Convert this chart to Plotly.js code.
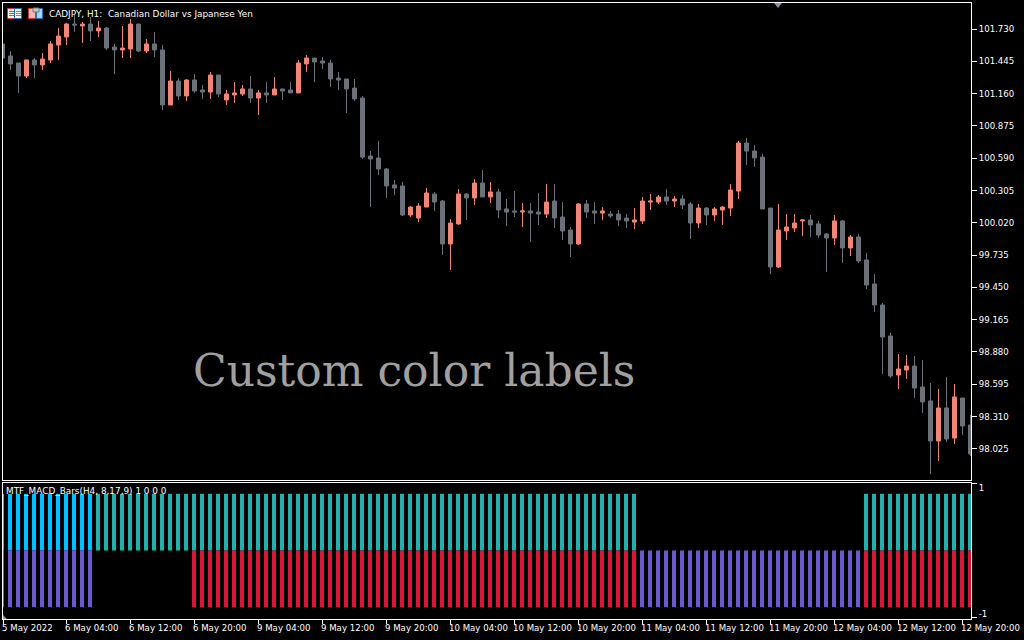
<!DOCTYPE html>
<html>
<head>
<meta charset="utf-8">
<script src="https://cdn.plot.ly/plotly-3.0.1.min.js"></script>
<style>html,body{margin:0;padding:0;background:#000}#chart{width:1024px;height:640px}</style>
</head>
<body>
<div id="chart"></div>
<script>
const opens=[101.598,101.492,101.430,101.315,101.457,101.413,101.457,101.589,101.660,101.774,
101.757,101.774,101.713,101.739,101.571,101.545,101.554,101.774,101.536,101.598,
101.545,101.060,101.271,101.139,101.280,101.192,101.174,101.324,101.104,101.148,
101.157,101.201,101.121,101.166,101.148,101.201,101.192,101.166,101.422,101.474,
101.448,101.430,101.297,101.289,101.209,101.121,100.609,100.592,100.495,100.354,
100.345,100.089,100.062,100.159,100.274,100.212,99.833,100.010,100.274,100.239,
100.371,100.248,100.292,100.142,100.124,100.115,100.124,100.115,100.097,100.212,
100.071,99.956,99.833,100.186,100.124,100.106,100.097,100.097,100.062,100.027,
100.036,100.203,100.203,100.248,100.212,100.230,100.186,100.018,100.150,100.089,
100.133,100.150,100.300,100.724,100.653,100.600,100.150,99.630,99.948,99.974,
100.036,100.045,100.010,99.921,99.886,100.036,99.798,99.895,99.692,99.480,
99.295,99.021,98.677,98.721,98.756,98.571,98.448,98.095,98.386,98.121,
98.474,98.236];
const highs=[101.598,101.536,101.430,101.457,101.474,101.518,101.624,101.739,101.783,101.854,
101.792,101.836,101.801,101.748,101.598,101.757,101.818,101.774,101.642,101.704,
101.589,101.360,101.297,101.289,101.333,101.236,101.351,101.324,101.192,101.262,
101.236,101.315,101.192,101.262,101.306,101.201,101.262,101.457,101.501,101.474,
101.483,101.457,101.351,101.289,101.289,101.139,100.653,100.742,100.504,100.398,
100.380,100.168,100.194,100.327,100.292,100.221,100.053,100.318,100.283,100.406,
100.486,100.380,100.318,100.230,100.300,100.194,100.194,100.283,100.362,100.362,
100.203,99.983,100.194,100.221,100.203,100.159,100.124,100.133,100.097,100.150,
100.248,100.274,100.265,100.318,100.256,100.265,100.203,100.186,100.159,100.159,
100.168,100.362,100.742,100.768,100.706,100.627,100.150,100.186,100.097,100.097,
100.053,100.089,100.036,99.930,100.089,100.045,99.912,99.921,99.754,99.568,
99.312,99.048,98.862,98.853,98.844,98.809,98.606,98.554,98.659,98.598,
98.474,98.324];
const lows=[101.474,101.368,101.166,101.297,101.297,101.368,101.430,101.457,101.589,101.704,
101.607,101.624,101.660,101.545,101.333,101.474,101.474,101.527,101.518,101.483,
101.015,101.060,101.104,101.095,101.166,101.113,101.113,101.130,101.060,101.077,
101.139,101.077,100.971,101.077,101.148,101.104,101.166,101.166,101.351,101.262,
101.377,101.218,101.192,100.989,101.095,100.583,100.159,100.442,100.239,100.265,
100.080,100.071,100.027,100.159,100.124,99.736,99.603,100.001,100.045,100.177,
100.248,100.194,100.062,99.992,100.071,99.983,99.851,100.001,100.062,99.974,
99.868,99.718,99.824,100.062,100.010,100.045,100.062,99.992,99.974,99.965,
100.010,100.133,100.186,100.177,100.159,100.142,99.877,99.974,100.001,100.036,
100.001,100.080,100.230,100.530,100.512,100.142,99.568,99.621,99.868,99.939,
99.904,99.895,99.886,99.586,99.824,99.665,99.727,99.665,99.436,99.233,
98.686,98.651,98.554,98.642,98.474,98.342,97.803,97.918,98.086,98.068,
98.147,97.962];
const closes=[101.474,101.422,101.315,101.457,101.413,101.465,101.598,101.668,101.774,101.765,
101.774,101.713,101.739,101.562,101.545,101.562,101.774,101.536,101.598,101.545,
101.060,101.271,101.139,101.280,101.183,101.174,101.324,101.157,101.157,101.166,
101.201,101.121,101.166,101.148,101.201,101.183,101.166,101.430,101.474,101.439,
101.430,101.289,101.280,101.201,101.113,100.600,100.583,100.495,100.345,100.327,
100.089,100.159,100.168,100.283,100.203,99.833,100.018,100.274,100.239,100.371,
100.248,100.292,100.133,100.115,100.115,100.124,100.106,100.097,100.203,100.062,
99.948,99.833,100.186,100.115,100.106,100.124,100.080,100.045,100.036,100.045,
100.212,100.212,100.248,100.212,100.230,100.177,100.018,100.150,100.089,100.142,
100.159,100.309,100.724,100.653,100.592,100.142,99.630,99.956,99.983,100.018,
100.045,100.001,99.912,99.886,100.036,99.798,99.895,99.683,99.471,99.295,
99.012,98.668,98.730,98.756,98.562,98.439,98.095,98.386,98.112,98.483,
98.227,97.980];

const _=null, u=0.9, d=-0.9;
const cyanBars=[u,u,u,u,u,u,u,u,u,u,u,u];
const tealBars=[_,_,_,_,_,_,_,_,_,_,_,_,
u,u,u,u,u,u,u,u,u,u,u,u,u,u,u,u,u,u,u,u,u,u,u,u,u,u,u,u,
u,u,u,u,u,u,u,u,u,u,u,u,u,u,u,u,u,u,u,u,u,u,u,u,u,u,u,u,
u,u,u,u,u,u,u,u,u,u,u,u,
_,_,_,_,_,_,_,_,_,_,_,_,_,_,_,_,_,_,_,_,_,_,_,_,_,_,_,_,
u,u,u,u,u,u,u,u,u,u,u,u,u,u];
const slateBars=[d,d,d,d,d,d,d,d,d,d,d,d,
_,_,_,_,_,_,_,_,_,_,_,_,
_,_,_,_,_,_,_,_,_,_,_,_,_,_,_,_,_,_,_,_,_,_,_,_,_,_,_,_,
_,_,_,_,_,_,_,_,_,_,_,_,_,_,_,_,_,_,_,_,_,_,_,_,_,_,_,_,
d,d,d,d,d,d,d,d,d,d,d,d,d,d,d,d,d,d,d,d,d,d,d,d,d,d,d,d];
const crimsonBars=[_,_,_,_,_,_,_,_,_,_,_,_,_,_,_,_,_,_,_,_,_,_,_,_,
d,d,d,d,d,d,d,d,d,d,d,d,d,d,d,d,d,d,d,d,d,d,d,d,d,d,d,d,
d,d,d,d,d,d,d,d,d,d,d,d,d,d,d,d,d,d,d,d,d,d,d,d,d,d,d,d,
_,_,_,_,_,_,_,_,_,_,_,_,_,_,_,_,_,_,_,_,_,_,_,_,_,_,_,_,
d,d,d,d,d,d,d,d,d,d,d,d,d,d];

const priceTicks=[101.730,101.445,101.160,100.875,100.590,100.305,100.020,99.735,99.450,99.165,98.880,98.595,98.310,98.025];
const priceTickText=['101.730','101.445','101.160','100.875','100.590','100.305','100.020','99.735','99.450','99.165','98.880','98.595','98.310','98.025'];
const timeTicks=[0.13,8,16,24,32,40,48,56,64,72,80,88,96,104,112,120];
const timeLabels=['5 May 2022','6 May 04:00','6 May 12:00','6 May 20:00','9 May 04:00','9 May 12:00','9 May 20:00','10 May 04:00','10 May 12:00','10 May 20:00','11 May 04:00','11 May 12:00','11 May 20:00','12 May 04:00','12 May 12:00','12 May 20:00'];

const idx=opens.map((v,i)=>i);
const W=1024,H=640;
const px=x=>x/W, py=y=>1-y/H;
const tickFont={family:'"DejaVu Sans", sans-serif',size:8.6,color:'#ffffff'};

function bar(vals,color){return {type:'bar',x:idx.slice(0,vals.length),y:vals,width:0.5,xaxis:'x2',yaxis:'y2',
  marker:{color:color,line:{width:0}},hoverinfo:'skip',showlegend:false};}

const traces=[
 {type:'candlestick',x:idx,open:opens,high:highs,low:lows,close:closes,xaxis:'x',yaxis:'y',showlegend:false,whiskerwidth:0,
  increasing:{line:{color:'#F08578',width:1},fillcolor:'#F08578'},
  decreasing:{line:{color:'#6A7179',width:1},fillcolor:'#6A7179'}},
 bar(cyanBars,'#00BFFF'),bar(tealBars,'#20B2AA'),bar(slateBars,'#6A5ACD'),bar(crimsonBars,'#DC143C')
];

function rect(x0,y0,x1,y1,fill,line){return {type:'rect',xref:'paper',yref:'paper',x0:px(x0),x1:px(x1),y0:py(y0),y1:py(y1),
  fillcolor:fill,line:{color:line||fill,width:line?1:0},layer:'above'};}
function poly(pts,fill){return {type:'path',xref:'paper',yref:'paper',
  path:'M'+pts.map(p=>px(p[0])+','+py(p[1])).join('L')+'Z',fillcolor:fill,line:{width:0},layer:'above'};}

const shapes=[
 rect(7.5,8.5,14.5,18.5,'#ffffff','#D9352A'),rect(14.5,8.5,21.5,18.5,'#ffffff','#1D6FB8'),
 rect(9,11,14,12,'#E0483C'),rect(9,13,14,14,'#E0483C'),rect(9,15,14,16,'#E0483C'),
 rect(16,11,21,12,'#4A93D0'),rect(16,13,21,14,'#4A93D0'),rect(16,15,21,16,'#4A93D0'),
 rect(28.5,8.5,35.5,18.5,'#F9B9B2','#D9352A'),rect(36.5,8.5,42.5,18.5,'#A7D6F5','#1D6FB8'),
 rect(33,8,39,12,'#C4C4C4','#777777'),
 poly([[774,3],[782,3],[778,8]],'#7F93A6'),
 poly([[3,615],[3,619],[7,619]],'#8A979F')
];

const annotations=[
 {xref:'paper',yref:'paper',x:px(47),y:py(14),xanchor:'left',yanchor:'middle',showarrow:false,
  text:'CADJPY, H1:  Canadian Dollar vs Japanese Yen',font:{family:tickFont.family,size:8.9,color:'#ffffff'}},
 {xref:'paper',yref:'paper',x:px(4),y:py(491),xanchor:'left',yanchor:'middle',showarrow:false,
  text:'MTF_MACD_Bars(H4, 8,17,9) 1 0 0 0',font:{family:tickFont.family,size:8.9,color:'#ffffff'}},
 {xref:'paper',yref:'paper',x:px(191),y:py(370),xanchor:'left',yanchor:'middle',showarrow:false,
  text:'Custom color labels',font:{family:'"DejaVu Serif", serif',size:44,color:'#A0A0A0'}}
];

const layout={width:W,height:H,margin:{l:0,r:0,t:0,b:0},paper_bgcolor:'#000000',plot_bgcolor:'#000000',
 showlegend:false,barmode:'overlay',boxgap:0.5,boxgroupgap:0,boxmode:'overlay',
 xaxis:{domain:[px(3),px(971)],range:[0.0625,121.0625],anchor:'y',showgrid:false,zeroline:false,showticklabels:false,ticks:'',
  showline:true,mirror:true,linecolor:'#ffffff',linewidth:1,rangeslider:{visible:false}},
 yaxis:{domain:[py(480),py(3)],range:[97.7504,101.9595],anchor:'x',side:'right',showgrid:false,zeroline:false,
  tickmode:'array',tickvals:priceTicks,ticktext:priceTickText,ticks:'outside',ticklen:5,tickwidth:1,tickcolor:'#ffffff',tickfont:tickFont,
  showline:true,mirror:true,linecolor:'#ffffff',linewidth:1},
 xaxis2:{domain:[px(3),px(971)],range:[0.125,121.125],anchor:'y2',showgrid:false,zeroline:false,
  tickmode:'array',tickvals:timeTicks,ticktext:timeLabels,ticks:'outside',ticklen:4,tickwidth:1,tickcolor:'#ffffff',tickangle:0,
  tickfont:tickFont,ticklabelposition:'outside right',ticklabeloverflow:'allow',ticklabelshift:-2,ticklabelstandoff:1,
  showline:true,mirror:true,linecolor:'#ffffff',linewidth:1},
 yaxis2:{domain:[py(619),py(483)],range:[-1.0873,1.0714],anchor:'x2',side:'right',showgrid:false,zeroline:false,
  tickmode:'array',tickvals:[1,-1],ticktext:['1','-1'],ticks:'outside',ticklen:5,tickwidth:1,tickcolor:'#000000',tickfont:tickFont,
  minor:{tickmode:'array',tickvals:[1.06,-1.07],ticks:'outside',ticklen:5,tickwidth:1,tickcolor:'#ffffff',showgrid:false},
  showline:true,mirror:true,linecolor:'#ffffff',linewidth:1},
 shapes:shapes,annotations:annotations,hovermode:false
};
Plotly.newPlot('chart',traces,layout,{displayModeBar:false,responsive:false});
</script>
</body>
</html>
